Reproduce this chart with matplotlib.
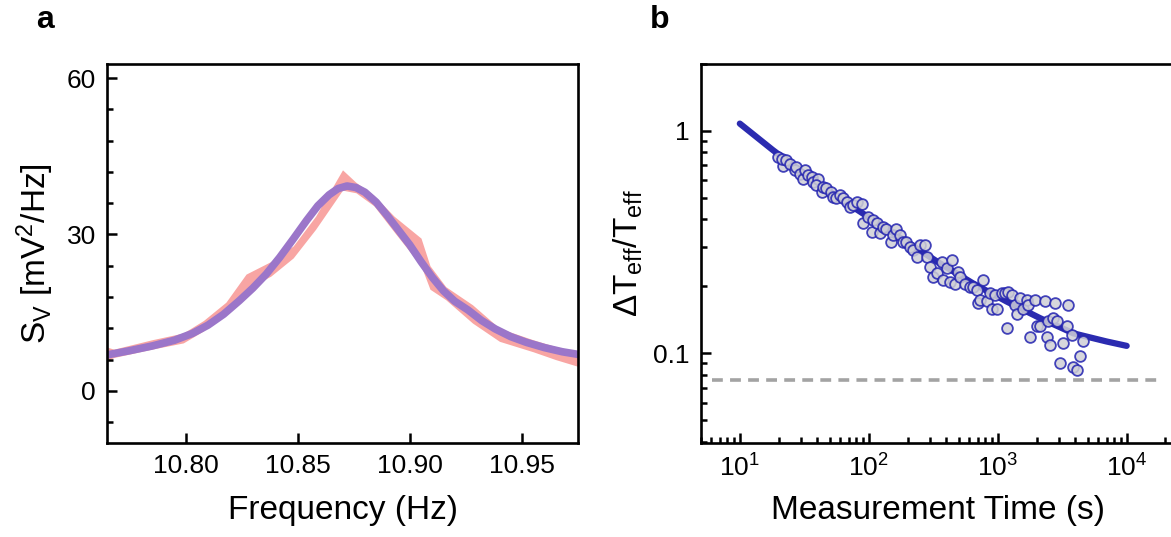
import numpy as np
import matplotlib
matplotlib.use("Agg")
import matplotlib.pyplot as plt
from matplotlib.ticker import FixedLocator, LogLocator, NullFormatter

plt.rcParams["font.family"] = ["Liberation Sans", "DejaVu Sans"]
plt.rcParams["mathtext.fontset"] = "custom"
plt.rcParams["mathtext.rm"] = "Liberation Sans"
plt.rcParams["mathtext.it"] = "Liberation Sans:italic"

# ---- panel a: noise spectrum (band = measured, line = fit)
band_f = [10.765, 10.768, 10.785, 10.799, 10.808, 10.818, 10.827, 10.838, 10.848,
          10.858, 10.870, 10.876, 10.884, 10.893, 10.905, 10.909, 10.916, 10.928,
          10.940, 10.955, 10.965, 10.975]
band_lo = [5.8, 6.4, 8.0, 9.2, 11.5, 15.5, 19.5, 22.0, 25.5, 31.0, 38.5, 38.0,
           35.5, 30.5, 24.0, 19.5, 17.5, 13.0, 9.5, 7.5, 6.0, 4.7]
band_hi = [8.4, 8.0, 9.8, 11.1, 13.5, 17.0, 22.4, 24.8, 27.8, 33.5, 42.4, 40.0,
           37.5, 33.5, 29.3, 24.0, 20.0, 16.5, 12.0, 9.8, 8.5, 7.5]
fit_f = [10.765, 10.775, 10.785, 10.795, 10.803, 10.810, 10.817, 10.824, 10.830,
         10.836, 10.842, 10.848, 10.854, 10.859, 10.864, 10.868, 10.872, 10.876,
         10.880, 10.885, 10.890, 10.895, 10.900, 10.905, 10.910, 10.915, 10.920,
         10.926, 10.932, 10.938, 10.945, 10.952, 10.960, 10.968, 10.975]
fit_s = [6.9, 7.7, 8.6, 9.7, 11.0, 12.6, 14.7, 17.3, 19.7, 22.4, 25.6, 29.1,
         32.7, 35.5, 37.6, 38.8, 39.3, 39.0, 38.1, 36.2, 33.6, 30.8, 28.0, 24.8,
         21.8, 19.2, 17.2, 15.5, 13.5, 11.9, 10.4, 9.3, 8.3, 7.5, 7.0]

# ---- panel b: relative temperature uncertainty vs measurement time
meas_t = [19.8, 21.7, 21.1, 23.0, 24.4, 26.7, 27.5, 29.2, 31.0, 31.9, 33.9, 36.0,
          37.1, 40.5, 39.3, 43.0, 44.3, 47.0, 51.4, 53.0, 56.2, 59.7, 63.3, 67.2,
          71.4, 75.7, 80.4, 87.9, 90.5, 99.0, 105, 108, 115, 122, 129, 137, 150,
          155, 164, 174, 185, 196, 208, 221, 235, 249, 272, 281, 298, 316, 336,
          367, 378, 401, 426, 439, 466, 494, 509, 557, 609, 646, 686, 706, 728,
          772, 820, 870, 896, 951, 980, 1072, 1137, 1172, 1207, 1281, 1359, 1401,
          1487, 1578, 1675, 1726, 1778, 1944, 2002, 2125, 2324, 2394, 2466, 2540,
          2697, 2778, 2862, 3037, 3224, 3422, 3526, 3741, 3855, 4091, 4342, 4608]
meas_dT = [0.764, 0.694, 0.751, 0.738, 0.713, 0.666, 0.689, 0.643, 0.611, 0.666,
           0.632, 0.621, 0.590, 0.611, 0.570, 0.532, 0.560, 0.551, 0.532, 0.505,
           0.497, 0.514, 0.497, 0.480, 0.456, 0.464, 0.480, 0.469, 0.384, 0.411,
           0.352, 0.397, 0.384, 0.346, 0.371, 0.364, 0.317, 0.340, 0.364, 0.340,
           0.317, 0.317, 0.301, 0.291, 0.272, 0.307, 0.307, 0.272, 0.245, 0.221,
           0.229, 0.258, 0.213, 0.241, 0.210, 0.263, 0.206, 0.233, 0.221, 0.206,
           0.199, 0.199, 0.193, 0.168, 0.174, 0.213, 0.171, 0.186, 0.159, 0.183,
           0.159, 0.186, 0.186, 0.130, 0.189, 0.183, 0.165, 0.151, 0.177, 0.159,
           0.174, 0.165, 0.119, 0.174, 0.132, 0.132, 0.171, 0.119, 0.139, 0.109,
           0.144, 0.168, 0.139, 0.0902, 0.111, 0.132, 0.165, 0.121, 0.0871, 0.0841,
           0.0973, 0.113]
curve_t = [10, 18.1, 32.9, 59.7, 108, 196, 356, 646, 1172, 2125, 3855, 6995, 10000]
curve_dT = [1.079, 0.819, 0.632, 0.497, 0.397, 0.317, 0.254, 0.206, 0.171, 0.144,
            0.123, 0.113, 0.108]
limit_dT = 0.076

W, H = 1171, 537
fig = plt.figure(figsize=(W / 100, H / 100), dpi=100)
axa = fig.add_axes([107 / W, 1 - 443 / H, 471 / W, 379 / H])
axb = fig.add_axes([701 / W, 1 - 443 / H, 474 / W, 379 / H])

for ax in (axa, axb):
    for s in ax.spines.values():
        s.set_linewidth(1.9)
    ax.tick_params(which="both", direction="in", width=1.8, labelsize=19)
    ax.tick_params(which="major", length=7, pad=8)
    ax.tick_params(which="minor", length=4)

# a
axa.fill_between(band_f, band_lo, band_hi, color="#f8a09e", lw=0, alpha=0.95)
axa.plot(fit_f, fit_s, color="#9b76c9", lw=5.5, solid_capstyle="round",
         solid_joinstyle="round")
axa.set_xlim(10.765, 10.975)
axa.set_ylim(-10, 62.7)
axa.set_xticks([10.80, 10.85, 10.90, 10.95])
axa.set_xticklabels(["10.80", "10.85", "10.90", "10.95"])
axa.set_yticks([0, 30, 60])
axa.yaxis.set_minor_locator(FixedLocator(np.arange(-6, 61, 6)))
axa.set_xlabel("Frequency (Hz)", fontsize=24, labelpad=12)
axa.set_ylabel(r"S$_\mathrm{V}$ [mV$^2$/Hz]", fontsize=24, labelpad=8)

# b
axb.set_xscale("log")
axb.set_yscale("log")
axb.plot(curve_t, curve_dT, color="#2b2bb0", lw=4.5, solid_capstyle="round",
         solid_joinstyle="round", zorder=2)
axb.scatter(meas_t, meas_dT, s=60, facecolor="#cfcfd6", edgecolor="#2424b0",
            linewidth=1.3, alpha=0.85, zorder=3)
axb.hlines(limit_dT, 6.1, 1.75e4, colors="#a3a3a3", linestyles=(0, (3, 2)), lw=2.6)
axb.set_xlim(5, 2.37e4)
axb.set_ylim(0.0395, 2.0)
axb.spines["right"].set_visible(False)
axb.xaxis.set_major_locator(FixedLocator([10, 100, 1000, 10000]))
axb.set_xticklabels([r"10$^1$", r"10$^2$", r"10$^3$", r"10$^4$"])
axb.xaxis.set_minor_locator(LogLocator(subs=np.arange(2, 10)))
axb.xaxis.set_minor_formatter(NullFormatter())
axb.set_yticks([0.1, 1])
axb.set_yticklabels(["0.1", "1"])
axb.yaxis.set_minor_locator(LogLocator(subs=np.arange(2, 10)))
axb.yaxis.set_minor_formatter(NullFormatter())
axb.set_xlabel("Measurement Time (s)", fontsize=24, labelpad=10)
axb.set_ylabel(r"$\Delta$T$_\mathrm{eff}$/T$_\mathrm{eff}$", fontsize=24, labelpad=6)

fig.text(45 / W, 1 - 20 / H, "a", fontsize=23, fontweight="bold", ha="center", va="center")
fig.text(660 / W, 1 - 20 / H, "b", fontsize=23, fontweight="bold", ha="center", va="center")

fig.savefig("out.png", dpi=100)
